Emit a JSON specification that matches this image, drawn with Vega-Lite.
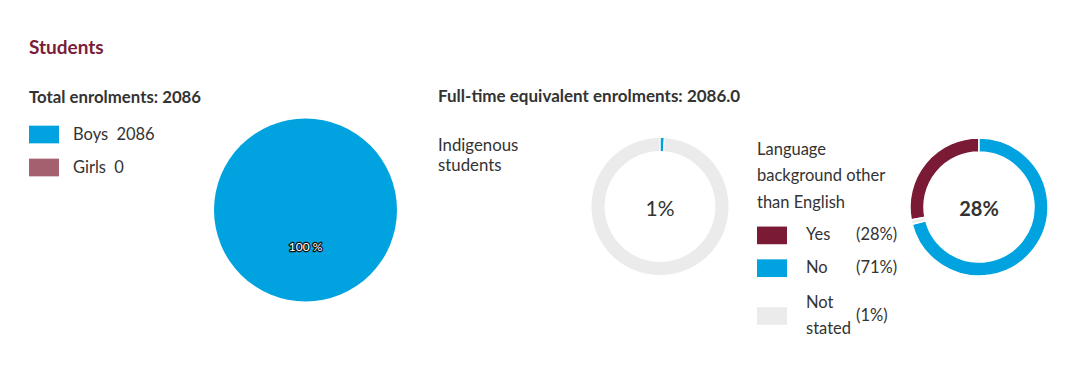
{
  "$schema": "https://vega.github.io/schema/vega-lite/v6.json",
  "background": "white",
  "padding": {"left": 29, "top": 38, "right": 10, "bottom": 10},
  "config": {
    "font": "Lato",
    "view": {"stroke": null},
    "title": {"color": "#333333", "font": "Lato"}
  },
  "title": {"text": "Students", "anchor": "start", "fontSize": 19, "fontWeight": "bold", "color": "#7b1c3a", "offset": 30},
  "bounds": "flush",
  "spacing": 50,
  "resolve": {
    "scale": {"color": "independent", "theta": "independent", "shape": "independent"},
    "legend": {"color": "independent", "shape": "independent"}
  },
  "hconcat": [
    {
      "width": 209,
      "height": 182,
      "title": {"text": "Total enrolments: 2086", "anchor": "start", "frame": "group", "dx": -172, "offset": 12, "fontSize": 16.8, "fontWeight": "bold", "color": "#333333"},
      "data": {"values": [
        {"gender": "Boys\u20022086", "students": 2086, "share": "100 %"},
        {"gender": "Girls\u20020", "students": 0, "share": "0 %"}
      ]},
      "layer": [
        {
          "mark": {"type": "arc", "outerRadius": 91.5},
          "encoding": {
            "theta": {"field": "students", "type": "quantitative", "stack": true},
            "color": {
              "field": "gender", "type": "nominal",
              "sort": ["Boys\u20022086", "Girls\u20020"],
              "scale": {"domain": ["Boys\u20022086", "Girls\u20020"], "range": ["#00a3e0", "#a5606f"]},
              "legend": {"title": null, "orient": "none", "legendX": -172, "legendY": 0.5, "padding": 0,
                "symbolType": "M-1,-0.59L1,-0.59L1,0.59L-1,0.59Z", "symbolSize": 900, "symbolStrokeWidth": 0,
                "labelFontSize": 16.5, "labelColor": "#333333", "labelOffset": 14, "rowPadding": 9}
            }
          }
        },
        {
          "transform": [{"filter": "datum.students > 0"}],
          "mark": {"type": "text", "radius": 37, "fontSize": 12, "fill": "#111111", "stroke": "#111111", "strokeWidth": 2.5, "strokeJoin": "round"},
          "encoding": {
            "theta": {"field": "students", "type": "quantitative", "stack": true},
            "text": {"field": "share"}
          }
        },
        {
          "transform": [{"filter": "datum.students > 0"}],
          "mark": {"type": "text", "radius": 37, "fontSize": 12, "fill": "white"},
          "encoding": {
            "theta": {"field": "students", "type": "quantitative", "stack": true},
            "text": {"field": "share"}
          }
        }
      ]
    },
    {
      "width": 400,
      "height": 175,
      "title": {"text": "Full-time equivalent enrolments: 2086.0", "subtitle": ["Indigenous", "students"], "anchor": "start", "frame": "group", "dx": -22, "offset": -56.5,
        "fontSize": 17, "fontWeight": "bold", "color": "#333333",
        "subtitleFontSize": 16.8, "subtitleColor": "#333333", "subtitleFont": "Lato", "subtitleLineHeight": 20, "subtitlePadding": 32, "subtitleFontWeight": "normal"},
      "layer": [
        {
          "data": {"values": [
            {"group": "Indigenous", "share": 1},
            {"group": "Non-Indigenous", "share": 99}
          ]},
          "mark": {"type": "arc", "outerRadius": 69, "innerRadius": 55, "stroke": "white", "strokeWidth": 1},
          "encoding": {
            "theta": {"field": "share", "type": "quantitative", "stack": true},
            "color": {"field": "group", "type": "nominal", "sort": ["Indigenous", "Non-Indigenous"],
              "scale": {"domain": ["Indigenous", "Non-Indigenous"], "range": ["#00a3e0", "#ebebeb"]}, "legend": null}
          }
        },
        {
          "data": {"values": [{"label": "1%"}]},
          "mark": {"type": "text", "fontSize": 21, "color": "#333333", "dy": 3},
          "encoding": {"text": {"field": "label"}}
        }
      ]
    },
    {
      "width": 138,
      "height": 176,
      "layer": [
        {
          "data": {"values": [
            {"answer": "Yes", "share": 28, "pct": "(28%)"},
            {"answer": "No", "share": 71, "pct": "(71%)"},
            {"answer": "Not stated", "share": 1, "pct": "(1%)"}
          ]},
          "mark": {"type": "arc", "outerRadius": 69, "innerRadius": 55, "stroke": "white", "strokeWidth": 1.5},
          "encoding": {
            "theta": {"field": "share", "type": "quantitative", "stack": true},
            "color": {
              "field": "answer", "type": "nominal", "sort": ["Yes", "No", "Not stated"],
              "scale": {"domain": ["Yes", "No", "Not stated"], "range": ["#7a1a35", "#00a3e0", "#ebebeb"]},
              "legend": {"title": ["Language", "background other", "than English"], "orient": "none", "legendX": -153, "legendY": 22.5, "padding": 0,
                "titleFontSize": 16.5, "titleFontWeight": "normal", "titleColor": "#333333", "titleLineHeight": 26.7, "titlePadding": 9,
                "symbolType": "M-1,-0.59L1,-0.59L1,0.59L-1,0.59Z", "symbolSize": 900, "symbolStrokeWidth": 0,
                "labelFontSize": 16.5, "labelColor": "#333333", "labelOffset": 19, "rowPadding": 8.8,
                "labelExpr": "datum.label === 'Not stated' ? ['\u200b', 'Not', '\u200b', '\u200b', 'stated'] : datum.label",
                "encoding": {"labels": {"lineHeight": {"value": 8.5333}, "dy": {"value": {"expr": "datum.value === 'Not stated' ? -21.333 : 0"}}}}}
            }
          }
        },
        {
          "data": {"values": [{"label": "28%"}]},
          "mark": {"type": "text", "fontSize": 20, "fontWeight": "bold", "color": "#333333", "dy": 3},
          "encoding": {"text": {"field": "label"}}
        },
        {
          "data": {"values": [
            {"answer": "Yes", "share": 28, "pct": "(28%)"},
            {"answer": "No", "share": 71, "pct": "(71%)"},
            {"answer": "Not stated", "share": 1, "pct": "(1%)"}
          ]},
          "mark": {"type": "point", "opacity": 0, "size": 900},
          "encoding": {
            "shape": {
              "field": "pct", "type": "nominal", "sort": ["(28%)", "(71%)", "(1%)"],
              "scale": {"domain": ["(28%)", "(71%)", "(1%)"], "range": ["M-1,-0.59L1,-0.59L1,0.59L-1,0.59Z", "M-1,-0.59L1,-0.59L1,0.59L-1,0.59Z", "M-1,-0.59L1,-0.59L1,0.59L-1,0.59Z"]},
              "legend": {"title": null, "orient": "none", "legendX": -103, "legendY": 101.4, "padding": 0,
                "symbolSize": 900, "symbolStrokeWidth": 0, "symbolOpacity": 0,
                "labelFontSize": 16.5, "labelColor": "#333333", "labelOffset": 19, "rowPadding": 8.8,
                "labelExpr": "datum.label === '(1%)' ? ['\u200b', '\u200b', '(1%)'] : datum.label",
                "encoding": {"labels": {"lineHeight": {"value": 10.6667}, "dy": {"value": {"expr": "datum.value === '(1%)' ? -21.333 : 0"}}}}}
            }
          }
        }
      ]
    }
  ]
}
